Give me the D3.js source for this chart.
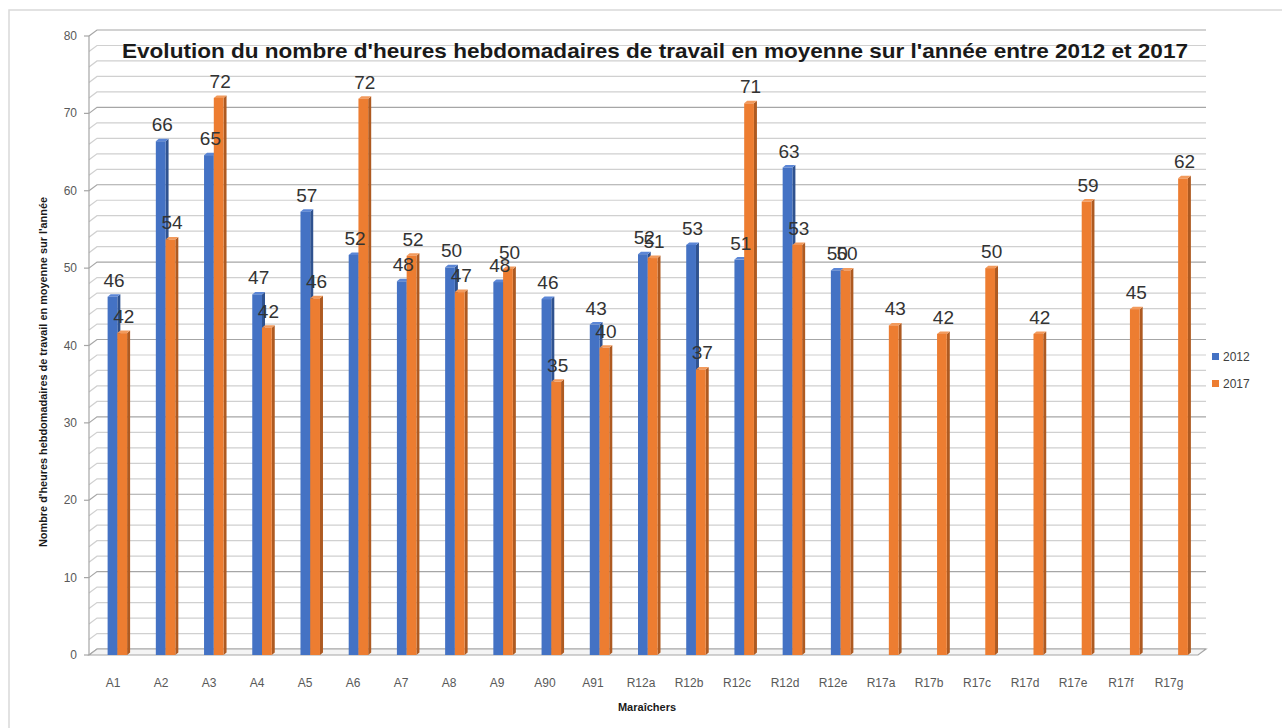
<!DOCTYPE html>
<html>
<head>
<meta charset="utf-8">
<script src="https://cdn.jsdelivr.net/npm/d3@7"></script>
<style>
  body { margin: 0; background: #fff; }
  svg { display: block; font-family: "Liberation Sans", Arial, sans-serif; }
</style>
</head>
<body>
<div id="chart"></div>
<script>

//--- Daten ------------------------------------------------------------------------------------------------ //

var categories = ['A1','A2','A3','A4','A5','A6','A7','A8','A9','A90','A91',
    'R12a','R12b','R12c','R12d','R12e','R17a','R17b','R17c','R17d','R17e','R17f','R17g'];

var values2012 = [46.3, 66.4, 64.6, 46.6, 57.3, 51.7, 48.3, 50.1, 48.2, 46.0, 42.7,
    51.8, 53.0, 51.1, 63.0, 49.7, null, null, null, null, null, null, null];

var values2017 = [41.6, 53.7, 72.0, 42.3, 46.1, 71.9, 51.6, 46.9, 49.9, 35.3, 39.7,
    51.3, 36.9, 71.3, 53.0, 49.7, 42.6, 41.5, 50.0, 41.5, 58.6, 44.7, 61.6];

var seriesNames = ['2012', '2017'];
var yTicks = [0, 10, 20, 30, 40, 50, 60, 70, 80];

var title = "Evolution du nombre d'heures hebdomadaires de travail en moyenne sur l'année entre 2012 et 2017";
var yTitle = "Nombre d'heures hebdomadaires de travail en moyenne sur l'année";
var xTitle = "Maraîchers";


//--- Farben ----------------------------------------------------------------------------------------------- //

var colors = {
    '2012': { front: '#4472c4', side: '#2f528f', top: '#5b86d6' },
    '2017': { front: '#ed7d31', side: '#ae5a21', top: '#f29a5c' }
};


//--- SVG -------------------------------------------------------------------------------------------------- //

var width = 1282, height = 728;
var depthX = 8, depthY = 6;      // Tiefe der Rueckwand
var barDX = 3, barDY = 2.5;      // Tiefe der Balken

var svg = d3.select('#chart').append('svg')
    .attr('width', width)
    .attr('height', height);

// Rahmen
svg.append('rect')
    .attr('x', 9).attr('y', 10)
    .attr('width', 1300).attr('height', 760)
    .attr('fill', 'none')
    .attr('stroke', '#d9d9d9')
    .attr('stroke-width', 1.5);

var y = d3.scaleLinear().domain([0, 80]).range([655, 36]);

var xAxisScale = d3.scaleBand().domain(categories).range([89, 1193]);
var xBars = d3.scaleBand().domain(categories).range([91, 1200]);
var xSeries = d3.scaleBand().domain(seriesNames).range([-7.5, 12]);

var leftX = 89, rightX = 1198;


//--- Gitternetz ------------------------------------------------------------------------------------------- //

var gridVals = d3.range(0, 81, 2);

var grid = svg.append('g').attr('id', 'grid');

gridVals.forEach(function (v) {
    var major = v % 10 === 0;
    var col = major ? '#a6a6a6' : '#d0d0d0';
    grid.append('path')
        .attr('d', 'M' + leftX + ',' + y(v) + 'L' + (leftX + depthX) + ',' + (y(v) - depthY) +
            'L' + (rightX + depthX) + ',' + (y(v) - depthY))
        .attr('fill', 'none')
        .attr('stroke', col)
        .attr('stroke-width', 1.2);
});

// Boden
svg.append('path')
    .attr('d', 'M' + leftX + ',' + y(0) + 'L' + (leftX + depthX) + ',' + (y(0) - depthY) +
        'L' + (rightX + depthX) + ',' + (y(0) - depthY) + 'L' + rightX + ',' + y(0) + 'Z')
    .attr('fill', '#f4f4f4')
    .attr('stroke', '#a6a6a6')
    .attr('stroke-width', 1.2);

// Y-Achse
svg.append('line')
    .attr('x1', leftX).attr('x2', leftX)
    .attr('y1', y(80)).attr('y2', y(0))
    .attr('stroke', '#a6a6a6').attr('stroke-width', 1.2);

var yAxis = svg.append('g').attr('id', 'y-axis');

yAxis.selectAll('line.tick')
    .data(yTicks)
    .enter().append('line')
    .attr('class', 'tick')
    .attr('x1', leftX - 5).attr('x2', leftX)
    .attr('y1', function (d) { return y(d); })
    .attr('y2', function (d) { return y(d); })
    .attr('stroke', '#a6a6a6').attr('stroke-width', 1.2);

yAxis.selectAll('text')
    .data(yTicks)
    .enter().append('text')
    .attr('x', 77)
    .attr('y', function (d) { return y(d) + 4; })
    .attr('text-anchor', 'end')
    .attr('font-size', 12)
    .attr('fill', '#595959')
    .text(function (d) { return d; });


//--- Balken ----------------------------------------------------------------------------------------------- //

function drawBar(g, x0, w, v, c) {
    var yt = y(v), yb = y(0);
    // Seite
    g.append('path')
        .attr('d', 'M' + (x0 + w) + ',' + yb + 'L' + (x0 + w) + ',' + yt +
            'L' + (x0 + w + barDX) + ',' + (yt - barDY) + 'L' + (x0 + w + barDX) + ',' + (yb - barDY) + 'Z')
        .attr('fill', c.side);
    // Oben
    g.append('path')
        .attr('d', 'M' + x0 + ',' + yt + 'L' + (x0 + barDX) + ',' + (yt - barDY) +
            'L' + (x0 + w + barDX) + ',' + (yt - barDY) + 'L' + (x0 + w) + ',' + yt + 'Z')
        .attr('fill', c.top);
    // Front
    g.append('rect')
        .attr('x', x0).attr('y', yt)
        .attr('width', w).attr('height', yb - yt)
        .attr('fill', c.front);
}

var bars = svg.append('g').attr('id', 'bars');
var labels = [];

categories.forEach(function (cat, i) {
    var cx = xBars(cat) + xBars.bandwidth() / 2;
    [values2012[i], values2017[i]].forEach(function (v, s) {
        if (v === null) return;
        var name = seriesNames[s];
        var x0 = cx + xSeries(name);
        var w = xSeries.bandwidth();
        drawBar(bars, x0, w, v, colors[name]);
        labels.push({ x: x0 + w / 2 + 1.5, y: y(v) - 10, v: Math.round(v) });
    });
});


//--- Datenbeschriftung ------------------------------------------------------------------------------------ //

svg.append('g').attr('id', 'labels')
    .selectAll('text')
    .data(labels)
    .enter().append('text')
    .attr('x', function (d) { return d.x; })
    .attr('y', function (d) { return d.y; })
    .attr('text-anchor', 'middle')
    .attr('font-size', 19)
    .attr('fill', '#333333')
    .text(function (d) { return d.v; });


//--- X-Achse ---------------------------------------------------------------------------------------------- //

svg.append('g').attr('id', 'x-axis')
    .selectAll('text')
    .data(categories)
    .enter().append('text')
    .attr('x', function (d) { return xAxisScale(d) + xAxisScale.bandwidth() / 2; })
    .attr('y', 687)
    .attr('text-anchor', 'middle')
    .attr('font-size', 12)
    .attr('fill', '#595959')
    .text(function (d) { return d; });


//--- Titel ------------------------------------------------------------------------------------------------ //

svg.append('text')
    .attr('x', 655)
    .attr('y', 58)
    .attr('text-anchor', 'middle')
    .attr('font-size', 21)
    .attr('font-weight', 'bold')
    .attr('fill', '#1a1a1a')
    .attr('textLength', 1066)
    .attr('lengthAdjust', 'spacingAndGlyphs')
    .text(title);

svg.append('text')
    .attr('transform', 'translate(47,372) rotate(-90)')
    .attr('text-anchor', 'middle')
    .attr('font-size', 11)
    .attr('font-weight', 'bold')
    .attr('fill', '#1a1a1a')
    .attr('textLength', 350)
    .attr('lengthAdjust', 'spacingAndGlyphs')
    .text(yTitle);

svg.append('text')
    .attr('x', 647)
    .attr('y', 711)
    .attr('text-anchor', 'middle')
    .attr('font-size', 11)
    .attr('font-weight', 'bold')
    .attr('fill', '#1a1a1a')
    .text(xTitle);


//--- Legende ---------------------------------------------------------------------------------------------- //

var legend = svg.append('g').attr('id', 'legend');

seriesNames.forEach(function (name, i) {
    var ly = 353 + i * 27;
    legend.append('rect')
        .attr('x', 1212).attr('y', ly)
        .attr('width', 7).attr('height', 7)
        .attr('fill', colors[name].front);
    legend.append('text')
        .attr('x', 1223).attr('y', ly + 7.5)
        .attr('font-size', 12)
        .attr('fill', '#404040')
        .text(name);
});

</script>
</body>
</html>
